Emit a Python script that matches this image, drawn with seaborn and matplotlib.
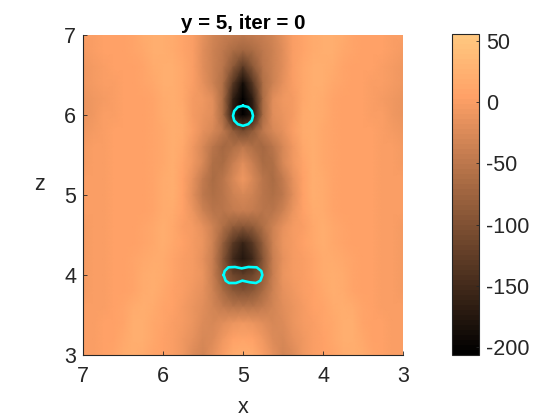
import matplotlib
matplotlib.use("Agg")
import matplotlib.pyplot as plt
from matplotlib.transforms import ScaledTranslation
import numpy as np
import seaborn as sns

campo = [
    [0, 2, 3, 3, 5, 8, 15, 22, 22, 15, 8, 0, -18, -32, -40, -46, -48, -46, -40, -32, -18, 0, 8, 15, 22, 22, 15, 8, 5, 3, 3, 2, 0],
    [-3, 0, 3, 3, 5, 8, 14, 20, 22, 17, 10, 0, -20, -35, -50, -65, -75, -65, -50, -35, -20, 0, 10, 17, 22, 20, 14, 8, 5, 3, 3, 0, -3],
    [-6, -2, 2, 3, 4, 6, 10, 18, 22, 20, 12, 0, -20, -35, -55, -90, -130, -90, -55, -35, -20, 0, 12, 20, 22, 18, 10, 6, 4, 3, 2, -2, -6],
    [-10, -5, 0, 2, 3, 5, 8, 14, 20, 22, 12, 0, -15, -35, -60, -130, -190, -130, -60, -35, -15, 0, 12, 22, 20, 14, 8, 5, 3, 2, 0, -5, -10],
    [-14, -8, -2, 2, 3, 4, 6, 10, 18, 22, 12, -5, -10, -22, -65, -165, -205, -165, -65, -22, -10, -5, 12, 22, 18, 10, 6, 4, 3, 2, -2, -8, -14],
    [-12, -6, -1, 2, 3, 4, 6, 10, 16, 22, 16, -2, -12, -22, -65, -170, -205, -170, -65, -22, -12, -2, 16, 22, 16, 10, 6, 4, 3, 2, -1, -6, -12],
    [-6, -2, 1, 3, 3, 5, 6, 10, 14, 20, 16, 2, -15, -28, -50, -85, -110, -85, -50, -28, -15, 2, 16, 20, 14, 10, 6, 5, 3, 3, 1, -2, -6],
    [-3, 0, 2, 3, 4, 5, 6, 8, 14, 20, 12, -8, -28, -55, -70, -60, -48, -60, -70, -55, -28, -8, 12, 20, 14, 8, 6, 5, 4, 3, 2, 0, -3],
    [-2, 0, 2, 3, 4, 5, 6, 8, 14, 20, 8, -10, -30, -60, -65, -40, -20, -40, -65, -60, -30, -10, 8, 20, 14, 8, 6, 5, 4, 3, 2, 0, -2],
    [0, 1, 2, 3, 4, 5, 6, 10, 16, 20, 5, -15, -45, -65, -55, -28, -10, -28, -55, -65, -45, -15, 5, 20, 16, 10, 6, 5, 4, 3, 2, 1, 0],
    [0, 1, 2, 3, 4, 5, 6, 10, 16, 20, 5, -20, -50, -62, -55, -38, -28, -38, -55, -62, -50, -20, 5, 20, 16, 10, 6, 5, 4, 3, 2, 1, 0],
    [0, 1, 2, 3, 4, 5, 6, 10, 16, 18, 3, -12, -35, -55, -52, -46, -42, -46, -52, -55, -35, -12, 3, 18, 16, 10, 6, 5, 4, 3, 2, 1, 0],
    [-2, 0, 2, 3, 4, 5, 8, 12, 20, 14, 2, -5, -18, -35, -60, -85, -95, -85, -60, -35, -18, -5, 2, 14, 20, 12, 8, 5, 4, 3, 2, 0, -2],
    [-3, 0, 2, 3, 4, 6, 8, 14, 20, 14, 4, -5, -12, -35, -80, -130, -160, -130, -80, -35, -12, -5, 4, 14, 20, 14, 8, 6, 4, 3, 2, 0, -3],
    [-4, -1, 2, 3, 5, 8, 12, 18, 18, 10, 2, -5, -15, -40, -95, -150, -175, -150, -95, -40, -15, -5, 2, 10, 18, 18, 12, 8, 5, 3, 2, -1, -4],
    [-3, 0, 2, 3, 5, 8, 16, 20, 16, 8, 2, -4, -12, -40, -85, -115, -125, -115, -85, -40, -12, -4, 2, 8, 16, 20, 16, 8, 5, 3, 2, 0, -3],
    [-2, 0, 2, 4, 6, 10, 18, 20, 12, 6, 0, -6, -15, -35, -65, -90, -100, -90, -65, -35, -15, -6, 0, 6, 12, 20, 18, 10, 6, 4, 2, 0, -2],
    [0, 1, 2, 4, 8, 16, 22, 18, 10, 4, -4, -12, -22, -32, -45, -52, -55, -52, -45, -32, -22, -12, -4, 4, 10, 18, 22, 16, 8, 4, 2, 1, 0],
    [0, 1, 3, 5, 10, 20, 22, 14, 8, 2, -4, -12, -25, -28, -22, -12, -8, -12, -22, -28, -25, -12, -4, 2, 8, 14, 22, 20, 10, 5, 3, 1, 0],
    [0, 2, 3, 6, 14, 22, 20, 12, 6, 0, -6, -18, -30, -25, -10, 5, 10, 5, -10, -25, -30, -18, -6, 0, 6, 12, 20, 22, 14, 6, 3, 2, 0],
    [0, 2, 4, 8, 18, 22, 18, 10, 5, 0, -8, -24, -32, -18, 2, 16, 22, 16, 2, -18, -32, -24, -8, 0, 5, 10, 18, 22, 18, 8, 4, 2, 0],
]

circulo_x = [5.00, 4.935, 4.89, 4.875, 4.89, 4.935, 5.00, 5.065, 5.11, 5.125, 5.11, 5.065, 5.00]
circulo_z = [6.115, 6.10, 6.05, 5.99, 5.93, 5.885, 5.865, 5.885, 5.93, 5.99, 6.05, 6.10, 6.115]

mani_x = [5.242, 5.229, 5.183, 5.100, 5.017, 4.933, 4.829, 4.771, 4.758, 4.783, 4.837, 4.912, 5.008, 5.088, 5.175, 5.217, 5.242]
mani_z = [4.00, 4.05, 4.096, 4.10, 4.083, 4.10, 4.096, 4.05, 4.00, 3.929, 3.90, 3.908, 3.929, 3.90, 3.90, 3.929, 4.00]

ticks_eje = [7, 6, 5, 4, 3]
ticks_barra = [50, 0, -50, -100, -150, -200]

VMIN, VMAX = -206.5, 55.5
C_TEXTO = "#262626"
W, H = 560, 420

plt.rcParams["font.family"] = ["Liberation Sans", "DejaVu Sans"]

fig = plt.figure(figsize=(W / 100, H / 100), dpi=100)
ax = fig.add_axes([83 / W, 1 - 355 / H, 320 / W, 320 / H])
cax = fig.add_axes([452 / W, 1 - 355 / H, 27 / W, 321 / H])

Z = np.array(campo, dtype=float)
sns.heatmap(Z, ax=ax, cbar_ax=cax, cmap=plt.get_cmap("copper").resampled(64),
            vmin=VMIN, vmax=VMAX, shading="gouraud", square=False)
ax.set_xlim(0, Z.shape[1] - 1)
ax.set_ylim(Z.shape[0] - 1, 0)


def a_col(x):
    return (7 - np.array(x)) * 8


def a_fila(z):
    return (7 - np.array(z)) * 5


for xs, zs in [(circulo_x, circulo_z), (mani_x, mani_z)]:
    sns.lineplot(x=a_col(xs), y=a_fila(zs), sort=False, estimator=None,
                 color="#00FFFF", linewidth=1.9, ax=ax)

ax.set_xticks(a_col(ticks_eje), [str(t) for t in ticks_eje])
ax.set_yticks(a_fila(ticks_eje), [str(t) for t in ticks_eje], rotation=0)
ax.tick_params(direction="in", length=3, width=0.6, color=C_TEXTO,
               labelcolor=C_TEXTO, labelsize=15.5)
ax.tick_params(axis="x", pad=8)
ax.tick_params(axis="y", pad=5)
# las etiquetas de z van un poco por debajo de su marca
bajar = ScaledTranslation(0, -2.5 / 100, fig.dpi_scale_trans)
for lbl in ax.get_yticklabels():
    lbl.set_transform(lbl.get_transform() + bajar)
for lado in ["left", "bottom"]:
    ax.spines[lado].set_visible(True)
    ax.spines[lado].set_color(C_TEXTO)
    ax.spines[lado].set_linewidth(0.8)

ax.set_xlabel("x", fontsize=15.5, color=C_TEXTO, labelpad=7)
ax.set_ylabel("z", fontsize=15.5, color=C_TEXTO, rotation=0, labelpad=18)
ax.set_title("y = 5, iter = 0", fontsize=14.8, fontweight="bold", color="black", pad=4)

barra = ax.collections[0].colorbar
barra.set_ticks(ticks_barra, labels=[str(t) for t in ticks_barra])
barra.outline.set_visible(True)
barra.outline.set_edgecolor(C_TEXTO)
barra.outline.set_linewidth(0.8)
cax.tick_params(direction="in", length=2.5, width=0.6, color=C_TEXTO,
                labelcolor=C_TEXTO, labelsize=15.5, pad=5)

fig.savefig("out.png", dpi=100)
